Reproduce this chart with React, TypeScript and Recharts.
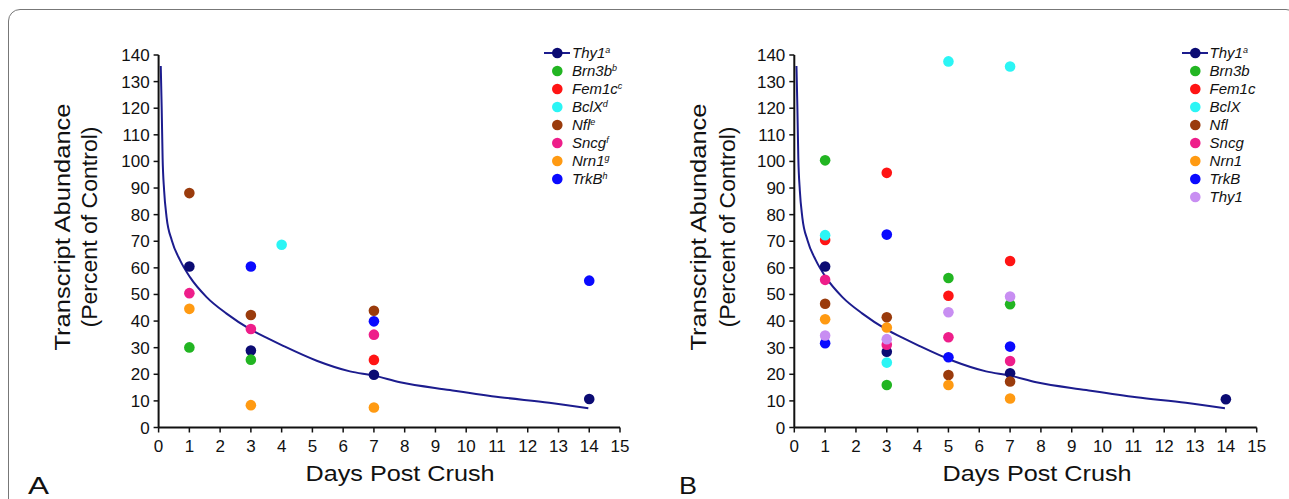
import React from "react";
import {
  ComposedChart,
  Scatter,
  Line,
  XAxis,
  YAxis,
  Legend,
} from "recharts";

type Pt = { day: number; value: number };

const FONT = 'Arial, "Liberation Sans", Helvetica, sans-serif';

const dayTicks = [0, 1, 2, 3, 4, 5, 6, 7, 8, 9, 10, 11, 12, 13, 14, 15];
const valueTicks = [0, 10, 20, 30, 40, 50, 60, 70, 80, 90, 100, 110, 120, 130, 140];

// fitted Thy1 decay curve (same in both panels)
const thy1Fit: Pt[] = [
  { day: 0.07, value: 135.9 },
  { day: 0.1, value: 120.3 },
  { day: 0.13, value: 101.5 },
  { day: 0.18, value: 89 },
  { day: 0.26, value: 79 },
  { day: 0.43, value: 70.3 },
  { day: 0.7, value: 62.8 },
  { day: 1.02, value: 56.5 },
  { day: 1.56, value: 49 },
  { day: 2.21, value: 42.8 },
  { day: 2.97, value: 37 },
  { day: 3.57, value: 33.4 },
  { day: 4.05, value: 30.7 },
  { day: 5.14, value: 25.1 },
  { day: 6.22, value: 21.1 },
  { day: 7.0, value: 19.5 },
  { day: 7.85, value: 17.0 },
  { day: 9.47, value: 14.1 },
  { day: 11.1, value: 11.4 },
  { day: 12.7, value: 9.3 },
  { day: 13.97, value: 7.2 },
];

// panel A
const thy1A: Pt[] = [
  { day: 1, value: 60.5 },
  { day: 3, value: 28.9 },
  { day: 7, value: 19.8 },
  { day: 14, value: 10.7 },
];
const brn3bA: Pt[] = [
  { day: 1, value: 30.1 },
  { day: 3, value: 25.5 },
];
const fem1cA: Pt[] = [{ day: 7, value: 25.4 }];
const bclxA: Pt[] = [{ day: 4, value: 68.7 }];
const nflA: Pt[] = [
  { day: 1, value: 88.1 },
  { day: 3, value: 42.3 },
  { day: 7, value: 43.9 },
];
const sncgA: Pt[] = [
  { day: 1, value: 50.5 },
  { day: 3, value: 37 },
  { day: 7, value: 34.9 },
];
const nrn1A: Pt[] = [
  { day: 1, value: 44.6 },
  { day: 3, value: 8.4 },
  { day: 7, value: 7.5 },
];
const trkbA: Pt[] = [
  { day: 3, value: 60.5 },
  { day: 7, value: 39.9 },
  { day: 14, value: 55.2 },
];

// panel B
const thy1B: Pt[] = [
  { day: 1, value: 60.5 },
  { day: 3, value: 28.5 },
  { day: 7, value: 20.4 },
  { day: 14, value: 10.6 },
];
const brn3bB: Pt[] = [
  { day: 1, value: 100.4 },
  { day: 3, value: 16.0 },
  { day: 5, value: 56.2 },
  { day: 7, value: 46.3 },
];
const fem1cB: Pt[] = [
  { day: 1, value: 70.5 },
  { day: 3, value: 95.7 },
  { day: 5, value: 49.5 },
  { day: 7, value: 62.6 },
];
const bclxB: Pt[] = [
  { day: 1, value: 72.3 },
  { day: 3, value: 24.4 },
  { day: 5, value: 137.6 },
  { day: 7, value: 135.7 },
];
const nflB: Pt[] = [
  { day: 1, value: 46.5 },
  { day: 3, value: 41.4 },
  { day: 5, value: 19.7 },
  { day: 7, value: 17.3 },
];
const sncgB: Pt[] = [
  { day: 1, value: 55.5 },
  { day: 3, value: 31.1 },
  { day: 5, value: 33.9 },
  { day: 7, value: 25.0 },
];
const nrn1B: Pt[] = [
  { day: 1, value: 40.7 },
  { day: 3, value: 37.6 },
  { day: 5, value: 16.0 },
  { day: 7, value: 10.9 },
];
const trkbB: Pt[] = [
  { day: 1, value: 31.7 },
  { day: 3, value: 72.5 },
  { day: 5, value: 26.4 },
  { day: 7, value: 30.4 },
];
const thy1LavB: Pt[] = [
  { day: 1, value: 34.6 },
  { day: 3, value: 33.2 },
  { day: 5, value: 43.3 },
  { day: 7, value: 49.2 },
];

const C = {
  navy: "#0b0b73",
  fit: "#1c1c8e",
  green: "#22b522",
  red: "#ff1414",
  cyan: "#2bf5f5",
  brown: "#9a3b0c",
  pink: "#ee1e8a",
  orange: "#ff9a12",
  blue: "#0a0aff",
  lavender: "#c88ef2",
};

type Series = { key: string; name: string; sup: string; color: string; data: Pt[] };

const seriesA: Series[] = [
  { key: "thy1", name: "Thy1", sup: "a", color: C.navy, data: thy1A },
  { key: "brn3b", name: "Brn3b", sup: "b", color: C.green, data: brn3bA },
  { key: "fem1c", name: "Fem1c", sup: "c", color: C.red, data: fem1cA },
  { key: "bclx", name: "BclX", sup: "d", color: C.cyan, data: bclxA },
  { key: "nfl", name: "Nfl", sup: "e", color: C.brown, data: nflA },
  { key: "sncg", name: "Sncg", sup: "f", color: C.pink, data: sncgA },
  { key: "nrn1", name: "Nrn1", sup: "g", color: C.orange, data: nrn1A },
  { key: "trkb", name: "TrkB", sup: "h", color: C.blue, data: trkbA },
];

const seriesB: Series[] = [
  { key: "thy1", name: "Thy1", sup: "a", color: C.navy, data: thy1B },
  { key: "brn3b", name: "Brn3b", sup: "", color: C.green, data: brn3bB },
  { key: "fem1c", name: "Fem1c", sup: "", color: C.red, data: fem1cB },
  { key: "bclx", name: "BclX", sup: "", color: C.cyan, data: bclxB },
  { key: "nfl", name: "Nfl", sup: "", color: C.brown, data: nflB },
  { key: "sncg", name: "Sncg", sup: "", color: C.pink, data: sncgB },
  { key: "nrn1", name: "Nrn1", sup: "", color: C.orange, data: nrn1B },
  { key: "trkb", name: "TrkB", sup: "", color: C.blue, data: trkbB },
  { key: "thy1lav", name: "Thy1", sup: "", color: C.lavender, data: thy1LavB },
];

function Dot(props: any) {
  const { cx, cy, fill } = props;
  if (cx == null || cy == null) return null;
  return <circle cx={cx} cy={cy} r={5.3} fill={fill} />;
}

function LegendBox({ entries }: { entries: Series[] }) {
  return (
    <div style={{ fontFamily: FONT, fontStyle: "italic", fontSize: 15, color: "#111" }}>
      {entries.map((s, i) => (
        <div key={s.key + i} style={{ display: "flex", alignItems: "center", height: 18 }}>
          <svg width={28} height={18} style={{ display: "block" }}>
            {i === 0 && <line x1={0} x2={26} y1={9} y2={9} stroke={C.fit} strokeWidth={2} />}
            <circle cx={13.3} cy={9} r={5.3} fill={s.color} />
          </svg>
          <span style={{ lineHeight: "18px", whiteSpace: "nowrap" }}>
            {s.name}
            {s.sup && (
              <sup style={{ fontSize: 9, verticalAlign: "top", position: "relative", top: -3 }}>{s.sup}</sup>
            )}
          </span>
        </div>
      ))}
    </div>
  );
}

function XTitle({ centerX }: { centerX: number }) {
  return (
    <text
      x={centerX}
      y={481}
      textAnchor="middle"
      fontSize={22}
      fill="#111"
      textLength={189}
      lengthAdjust="spacingAndGlyphs"
      style={{ fontFamily: FONT }}
    >
      Days Post Crush
    </text>
  );
}

function YTitle({ base1, base2 }: { base1: number; base2: number }) {
  const cy = 227;
  return (
    <g style={{ fontFamily: FONT }}>
      <text
        x={base1}
        y={cy}
        transform={`rotate(-90 ${base1} ${cy})`}
        textAnchor="middle"
        fontSize={22}
        fill="#111"
        textLength={247}
        lengthAdjust="spacingAndGlyphs"
      >
        Transcript Abundance
      </text>
      <text
        x={base2}
        y={cy}
        transform={`rotate(-90 ${base2} ${cy})`}
        textAnchor="middle"
        fontSize={22}
        fill="#111"
        textLength={201}
        lengthAdjust="spacingAndGlyphs"
      >
        (Percent of Control)
      </text>
    </g>
  );
}

type PanelProps = {
  left: number;
  width: number;
  marginLeft: number;
  marginRight: number;
  series: Series[];
  legendLeft: number;
  legendTop: number;
  titleX: number;
  yBase1: number;
  yBase2: number;
};

function Panel(p: PanelProps) {
  const axisStroke = { stroke: "#111", strokeWidth: 2 };
  const tickStroke = { stroke: "#111", strokeWidth: 1.5 };
  return (
    <div style={{ position: "absolute", left: p.left, top: 0, fontFamily: FONT }}>
      <ComposedChart
        width={p.width}
        height={499}
        margin={{ top: 55, right: p.marginRight, bottom: 41.5, left: p.marginLeft }}
      >
        <XAxis
          dataKey="day"
          type="number"
          domain={[0, 15]}
          ticks={dayTicks}
          interval={0}
          height={30}
          tickSize={5}
          tickMargin={7}
          axisLine={axisStroke}
          tickLine={tickStroke}
          tick={{ fill: "#111", fontSize: 17 }}
          label={<XTitle centerX={p.titleX} />}
        />
        <YAxis
          dataKey="value"
          type="number"
          domain={[0, 140]}
          ticks={valueTicks}
          interval={0}
          width={58.5}
          tickSize={5}
          tickMargin={4}
          axisLine={axisStroke}
          tickLine={tickStroke}
          tick={{ fill: "#111", fontSize: 17 }}
          label={<YTitle base1={p.yBase1} base2={p.yBase2} />}
        />
        <Line
          data={thy1Fit}
          dataKey="value"
          type="monotone"
          stroke={C.fit}
          strokeWidth={2}
          dot={false}
          activeDot={false}
          legendType="none"
          isAnimationActive={false}
        />
        {p.series.map((s) => (
          <Scatter
            key={s.key}
            name={s.name}
            data={s.data}
            dataKey="value"
            fill={s.color}
            shape={<Dot fill={s.color} />}
            isAnimationActive={false}
          />
        ))}
        <Legend
          layout="vertical"
          align="center"
          verticalAlign="middle"
          content={<LegendBox entries={p.series} />}
          wrapperStyle={{ left: p.legendLeft, top: p.legendTop, width: 110, bottom: "auto", right: "auto" }}
        />
      </ComposedChart>
    </div>
  );
}

export default function App() {
  return (
    <div
      style={{
        position: "fixed",
        left: 0,
        top: 0,
        width: 1289,
        height: 499,
        overflow: "hidden",
        background: "#fff",
      }}
    >
      <div
        style={{
          position: "absolute",
          left: 8,
          top: 9,
          width: 1290,
          height: 700,
          border: "1px solid #777",
          borderRadius: 12,
          boxSizing: "border-box",
        }}
      />
      <Panel
        left={0}
        width={640}
        marginLeft={100.1}
        marginRight={20}
        series={seriesA}
        legendLeft={544}
        legendTop={43.7}
        titleX={400}
        yBase1={70}
        yBase2={97}
      />
      <Panel
        left={640}
        width={649}
        marginLeft={95.8}
        marginRight={32.3}
        series={seriesB}
        legendLeft={541.6}
        legendTop={44.3}
        titleX={397}
        yBase1={66}
        yBase2={94.5}
      />
      <svg
        width={1289}
        height={499}
        style={{ position: "absolute", left: 0, top: 0, pointerEvents: "none", fontFamily: FONT }}
      >
        <text x={28} y={494} fontSize={24} fill="#111" textLength={21} lengthAdjust="spacingAndGlyphs">
          A
        </text>
        <text x={679} y={494} fontSize={24} fill="#111" textLength={18} lengthAdjust="spacingAndGlyphs">
          B
        </text>
      </svg>
    </div>
  );
}
